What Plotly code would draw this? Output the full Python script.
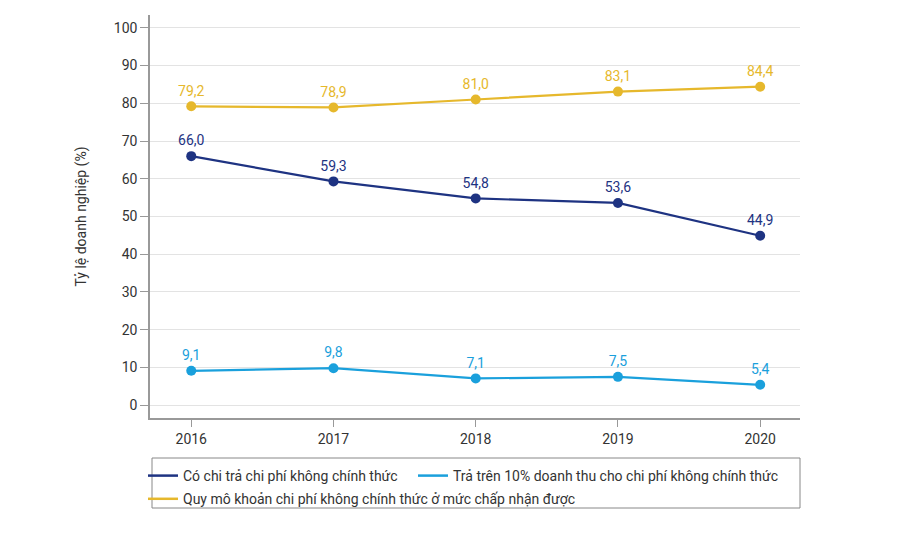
import plotly.graph_objects as go

years = [2016, 2017, 2018, 2019, 2020]
series_names = [
    "Có chi trả chi phí không chính thức",
    "Trả trên 10% doanh thu cho chi phí không chính thức",
    "Quy mô khoản chi phí không chính thức ở mức chấp nhận được",
]
paid_informal = [66.0, 59.3, 54.8, 53.6, 44.9]
over_10pct = [9.1, 9.8, 7.1, 7.5, 5.4]
acceptable = [79.2, 78.9, 81.0, 83.1, 84.4]
colors = ["#1e3382", "#1aa0dc", "#e6b82c"]
legend_ids = ["legend", "legend2", "legend"]

def fmt(v):
    return f"{v:.1f}".replace(".", ",")

fig = go.Figure()
for name, vals, c in zip(series_names, [paid_informal, over_10pct, acceptable], colors):
    fig.add_trace(go.Scatter(
        x=years, y=vals, name=name, mode="lines+markers+text",
        line=dict(color=c, width=2.2),
        marker=dict(color=c, size=10),
        text=[fmt(v) for v in vals], textposition="top center",
        textfont=dict(color=c, size=14, family="Roboto"),
        showlegend=False,
    ))
# legend-only entries (line symbols only)
for i, (name, c, lg) in enumerate(zip(series_names, colors, legend_ids)):
    fig.add_trace(go.Scatter(
        x=[None], y=[None], name=name, mode="lines",
        line=dict(color=c, width=2.5), legend=lg, showlegend=True,
        legendgroup=f"g{i}",
    ))

H = 403.0
W = 650.0
legend_common = dict(
    orientation="v", yanchor="top", xanchor="left",
    bgcolor="rgba(0,0,0,0)", borderwidth=0,
    font=dict(size=14, color="#333333", family="Roboto"),
    itemwidth=30, tracegroupgap=2,
)

fig.update_layout(
    width=900, height=544,
    paper_bgcolor="white", plot_bgcolor="white",
    margin=dict(l=142, r=108, t=7, b=134, autoexpand=False),
    font=dict(family="Roboto", color="#333333", size=14),
    showlegend=True,
    legend=dict(x=-7 / W, y=-42 / H, **legend_common),
    legend2=dict(x=263 / W, y=-42 / H, **legend_common),
    shapes=[dict(
        type="rect", xref="paper", yref="paper",
        x0=2 / W, x1=1.0, y0=-90 / H, y1=-40 / H,
        line=dict(color="#888888", width=1), fillcolor="rgba(0,0,0,0)",
    )],
    xaxis=dict(
        range=[2015.71, 2020.28], tickvals=years, ticktext=[str(y) for y in years],
        showgrid=False, showline=True, linecolor="#999999", linewidth=1.5,
        ticks="outside", ticklen=7, tickcolor="#999999", zeroline=False,
        tickfont=dict(size=14, color="#333333"),
    ),
    yaxis=dict(
        range=[-3.4, 103.4], tickvals=list(range(0, 101, 10)),
        showgrid=True, gridcolor="#e3e3e3", gridwidth=1,
        showline=True, linecolor="#999999", linewidth=1.5,
        ticks="outside", ticklen=8, tickcolor="#999999", zeroline=False,
        tickfont=dict(size=14, color="#333333"),
        title=dict(text="Tỷ lệ doanh nghiệp (%)", font=dict(size=14, color="#333333"), standoff=24),
    ),
)

fig.write_html("out.html")
